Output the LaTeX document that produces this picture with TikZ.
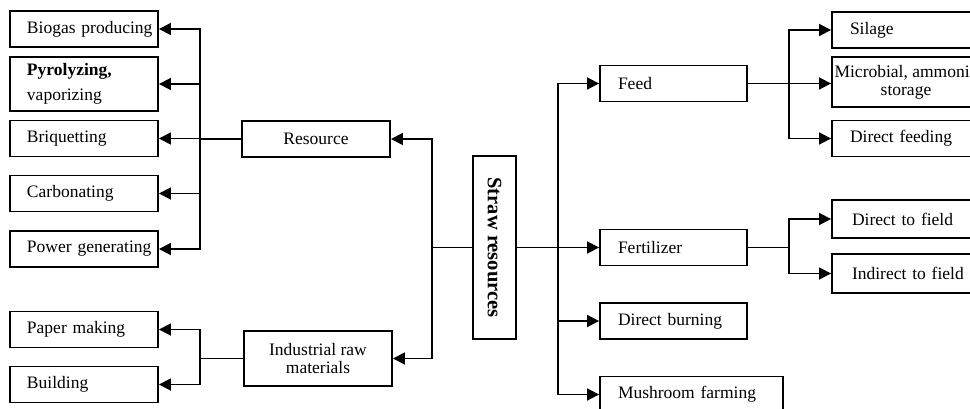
\documentclass[tikz,border=0pt]{standalone}
\usepackage{fontspec}
\setmainfont{Liberation Serif}
\usetikzlibrary{arrows.meta}

\begin{document}
\begin{tikzpicture}
    [
        x=1pt,y=-1pt,
        font=\fontsize{17.5}{25}\selectfont,
        box/.style={rectangle,draw=black,line width=1.9pt,minimum width=148pt,minimum height=36pt,inner sep=0pt},
        lbox/.style={box,text width=148pt,align=left,execute at begin node={\leftskip=#1}},
        lbox/.default=17pt,
        cbox/.style={box,align=center,font=\fontsize{17.5}{18}\selectfont},
        link/.style={draw=black,line width=1.8pt,line cap=rect},
        arrow/.style={link,-{Triangle[length=12pt,width=12pt]}},
    ]
    \useasboundingbox (0,0) rectangle (970,409);
    \clip (0,0) rectangle (970,409);

    % left column
    \node[lbox] (biogas) at (84,29) {Biogas producing};
    \node[lbox,minimum height=54pt] (pyro) at (84,84) {\textbf{Pyrolyzing,}\\vaporizing};
    \node[lbox] (briq) at (84,138.5) {Briquetting};
    \node[lbox] (carbon) at (84,193.5) {Carbonating};
    \node[lbox] (power) at (84,249) {Power generating};
    \node[lbox] (paper) at (84,329.5) {Paper making};
    \node[lbox] (building) at (84,384.5) {Building};

    % middle
    \node[cbox] (resource) at (316,139) {Resource};
    \node[cbox,minimum height=55pt] (industrial) at (318,358.5) {Industrial raw\\materials};
    \node[box,minimum width=43pt,minimum height=183pt,font=\fontsize{20.5}{22}\selectfont\bfseries]
        (straw) at (494.5,247.5) {\rotatebox{-90}{Straw resources}};

    % right
    \node[lbox=18pt,text width=147pt,minimum width=147pt] (feed) at (673.5,83.5) {Feed};
    \node[lbox=18pt,text width=147pt,minimum width=147pt] (fert) at (673.5,247.5) {Fertilizer};
    \node[lbox=18pt,text width=147pt,minimum width=147pt] (burning) at (673.5,321) {Direct burning};
    \node[lbox=18pt,text width=183pt,minimum width=183pt] (mushroom) at (691.5,394.5) {Mushroom farming};
    \node[lbox=18pt] (silage) at (906,30) {Silage};
    \node[cbox,minimum height=50pt] (microbial) at (906,82) {Microbial, ammonia\\storage};
    \node[lbox=18pt] (dfeeding) at (906,138.5) {Direct feeding};
    \node[lbox=20pt,minimum height=38pt] (dfield) at (906,219) {Direct to field};
    \node[lbox=20pt,minimum height=39pt] (ifield) at (906,273.5) {Indirect to field};

    % junction columns
    \coordinate (resj) at (200,0);
    \coordinate (midj) at (432,0);
    \coordinate (rightj) at (558,0);
    \coordinate (feedj) at (789,0);

    % resource branch
    \draw[link] (resource.west) -- (resource.west -| resj);
    \draw[link] (biogas.east -| resj) -- (power.east -| resj);
    \foreach \n in {biogas,pyro,briq,carbon,power}
        \draw[arrow] (\n.east -| resj) -- (\n.east);

    % industrial branch
    \draw[link] (industrial.west) -- (industrial.west -| resj);
    \draw[link] (paper.east -| resj) -- (building.east -| resj);
    \foreach \n in {paper,building}
        \draw[arrow] (\n.east -| resj) -- (\n.east);

    % straw to the left
    \draw[link] (straw.west) -- (straw.west -| midj);
    \draw[link] (resource.east -| midj) -- (industrial.east -| midj);
    \foreach \n in {resource,industrial}
        \draw[arrow] (\n.east -| midj) -- (\n.east);

    % straw to the right
    \draw[link] (straw.east) -- (straw.east -| rightj);
    \draw[link] (feed.west -| rightj) -- (mushroom.west -| rightj);
    \foreach \n in {feed,fert,burning,mushroom}
        \draw[arrow] (\n.west -| rightj) -- (\n.west);

    % feed branch
    \draw[link] (feed.east) -- (feed.east -| feedj);
    \draw[link] (silage.west -| feedj) -- (dfeeding.west -| feedj);
    \foreach \n in {silage,dfeeding}
        \draw[arrow] (\n.west -| feedj) -- (\n.west);
    \draw[arrow] (feed.east -| feedj) -- (feed.east -| microbial.west);

    % fertilizer branch
    \draw[link] (fert.east) -- (fert.east -| feedj);
    \draw[link] (dfield.west -| feedj) -- (ifield.west -| feedj);
    \foreach \n in {dfield,ifield}
        \draw[arrow] (\n.west -| feedj) -- (\n.west);
\end{tikzpicture}
\end{document}
